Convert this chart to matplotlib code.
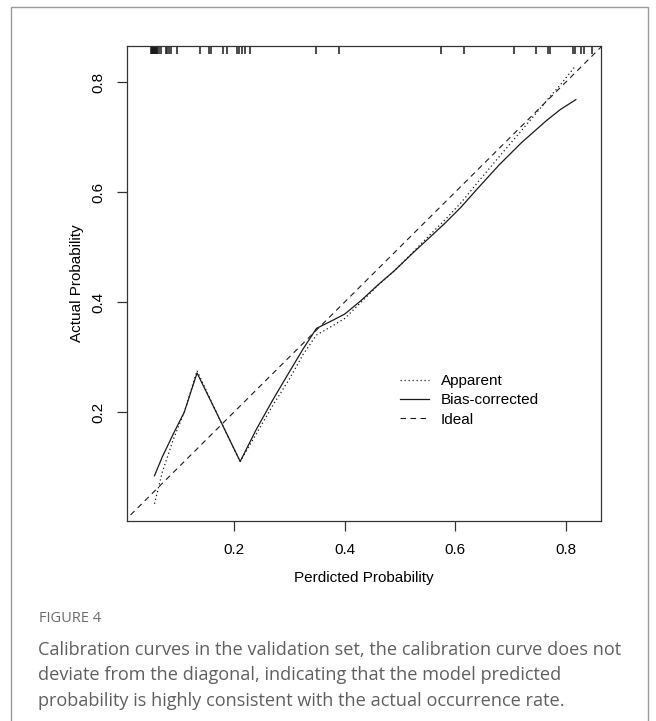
import numpy as np
import matplotlib
matplotlib.use('Agg')
import matplotlib.pyplot as plt
from matplotlib import font_manager
from matplotlib.patches import Rectangle

# values
pred_grid = [0.056, 0.070, 0.090, 0.110, 0.133, 0.170, 0.211, 0.240, 0.270,
             0.300, 0.325, 0.349, 0.375, 0.400, 0.430, 0.460, 0.490, 0.520,
             0.550, 0.580, 0.610, 0.640, 0.680, 0.720, 0.765, 0.790, 0.818]
apparent = [0.033, 0.090, 0.150, 0.200, 0.275, 0.195, 0.110, 0.160, 0.212,
            0.260, 0.305, 0.340, 0.355, 0.370, 0.400, 0.430, 0.457, 0.487,
            0.518, 0.548, 0.580, 0.617, 0.665, 0.712, 0.766, 0.795, 0.830]
bias_corrected = [0.084, 0.118, 0.160, 0.200, 0.271, 0.195, 0.110, 0.168, 0.222,
                  0.273, 0.315, 0.352, 0.365, 0.378, 0.403, 0.431, 0.457, 0.486,
                  0.514, 0.542, 0.572, 0.606, 0.650, 0.690, 0.730, 0.750, 0.768]
ideal = [0.0, 1.0]

# predicted probabilities shown as the rug along the top
rug = [0.050, 0.051, 0.052, 0.053, 0.054, 0.055, 0.056, 0.057, 0.058, 0.059,
       0.060, 0.061, 0.065, 0.068, 0.076, 0.079, 0.083, 0.086, 0.096, 0.138,
       0.154, 0.158, 0.180, 0.187, 0.205, 0.209, 0.214, 0.219, 0.229, 0.348,
       0.390, 0.575, 0.615, 0.706, 0.746, 0.768, 0.771, 0.813, 0.817, 0.827,
       0.833, 0.848]

ticks = [0.2, 0.4, 0.6, 0.8]
legend_labels = ['Apparent', 'Bias-corrected', 'Ideal']
caption_title = 'FIGURE 4'
caption_lines = ['Calibration curves in the validation set, the calibration curve does not',
                 'deviate from the diagonal, indicating that the model predicted',
                 'probability is highly consistent with the actual occurrence rate.']

# R-ish narrow font if it is there, otherwise plain Liberation Sans a bit smaller
names = {f.name for f in font_manager.fontManager.ttflist}
if 'Liberation Sans Narrow' in names:
   r_font, r_size = 'Liberation Sans Narrow', 13
else:
   r_font, r_size = 'Liberation Sans', 11

W, H = 656, 721
fig = plt.figure(figsize=(W / 100, H / 100), dpi=100)

# grey frame around the figure panel
fig.patches.append(Rectangle((11 / W, -0.1), (648 - 11) / W, 1.1 - 7 / H,
                             transform=fig.transFigure, fill=False,
                             edgecolor='#9a9a9a', linewidth=1.0))

ax = fig.add_axes([126.7 / W, 1 - 521 / H, (601 - 126.7) / W, (521 - 46) / H])

line_col = '#1a1a1a'
ax.plot(pred_grid, apparent, color=line_col, lw=0.9, linestyle=(0, (1, 2.2)), label=legend_labels[0])
ax.plot(pred_grid, bias_corrected, color=line_col, lw=0.9, linestyle='-', label=legend_labels[1])
ax.plot(ideal, ideal, color=line_col, lw=0.8, linestyle=(0, (5, 4)), label=legend_labels[2])

ax.vlines(rug, 1 - 8 / 475, 1, transform=ax.get_xaxis_transform(), color=line_col, lw=1.1)

ax.set_xlim(0.0058, 0.8635)
ax.set_ylim(0.0018, 0.8655)
ax.set_xticks(ticks)
ax.set_yticks(ticks)
ax.set_xticklabels([str(t) for t in ticks], fontfamily=r_font, fontsize=r_size)
ax.set_yticklabels([str(t) for t in ticks], fontfamily=r_font, fontsize=r_size,
                   rotation=90, va='center')
ax.tick_params(axis='both', direction='out', length=7, width=0.9, color='#333333')
ax.tick_params(axis='x', pad=9)
ax.tick_params(axis='y', pad=8)
ax.tick_params(top=False, right=False)
for s in ax.spines.values():
   s.set_linewidth(0.9)
   s.set_color('#333333')

ax.set_xlabel('Perdicted Probability', fontfamily=r_font, fontsize=r_size, labelpad=10)
ax.set_ylabel('Actual Probability', fontfamily=r_font, fontsize=r_size, labelpad=6)

leg = ax.legend(loc='upper left', bbox_to_anchor=((400 - 126.7) / 474.3, (521 - 374) / 475),
                frameon=False, borderpad=0, borderaxespad=0, handlelength=1.9,
                handletextpad=0.75, labelspacing=0.35,
                prop={'family': r_font, 'size': r_size})

cap_font = 'Open Sans'
fig.text(39 / W, 1 - 619 / H, caption_title, fontfamily=cap_font, fontsize=10.5,
         color='#6a6a6a', va='center', ha='left')
for i, line in enumerate(caption_lines):
   fig.text(38 / W, 1 - (650 + 25.5 * i) / H, line, fontfamily=cap_font, fontsize=13.1,
            color='#5f5f5f', va='center', ha='left')

fig.savefig('out.png', dpi=100)
